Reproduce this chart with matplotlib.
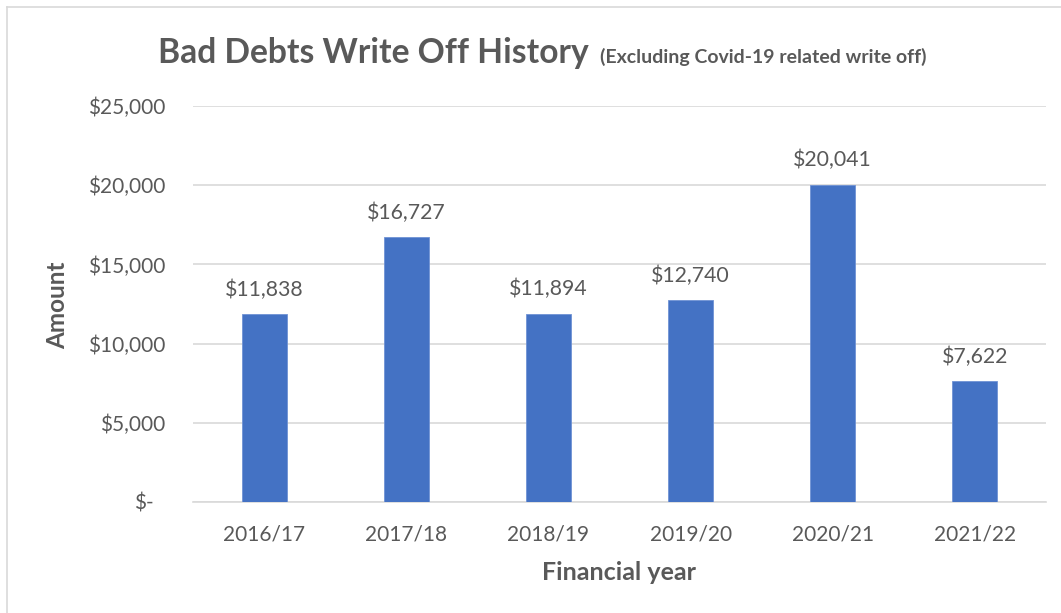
import matplotlib
matplotlib.use("Agg")
import matplotlib.pyplot as plt
import matplotlib.transforms as mtransforms

categories = ["2016/17", "2017/18", "2018/19", "2019/20", "2020/21", "2021/22"]
amounts = [11838, 16727, 11894, 12740, 20041, 7622]
yticks = [0, 5000, 10000, 15000, 20000, 25000]
ytick_labels = ["$-", "$5,000", "$10,000", "$15,000", "$20,000", "$25,000"]
title_main = "Bad Debts Write Off History"
title_sub = "(Excluding Covid-19 related write off)"

W, H = 1061, 613
FONT = "Lato"
TXT = "#595959"
BAR = "#4472C4"
GRID = "#D9D9D9"

fig = plt.figure(figsize=(W / 100, H / 100), dpi=100)
fig.patch.set_facecolor("white")

# chart border (left and top visible)
fig.add_artist(plt.Line2D([7 / W, 7 / W], [0, 1 - 7 / H], color="#D9D9D9", lw=1.2, transform=fig.transFigure))
fig.add_artist(plt.Line2D([7 / W, 1], [1 - 7 / H, 1 - 7 / H], color="#D9D9D9", lw=1.2, transform=fig.transFigure))

left, right = 193 / W, 1046 / W
bottom, top = 1 - 502 / H, 1 - 106 / H
ax = fig.add_axes([left, bottom, right - left, top - bottom])

x = list(range(len(categories)))
ax.bar(x, amounts, width=0.317, color=BAR, edgecolor="#6F92D4", linewidth=0.6, zorder=3)
ax.set_xlim(-0.5, len(categories) - 0.5)
ax.set_ylim(0, 25000)
ax.set_yticks(yticks)
ax.set_yticklabels(ytick_labels, fontfamily=FONT, fontsize=15, color=TXT)
ax.set_xticks(x)
ax.set_xticklabels(categories, fontfamily=FONT, fontsize=15, color=TXT)
ax.tick_params(axis="y", length=0, pad=20)
ax.tick_params(axis="x", length=0, pad=16.5)
ax.grid(axis="y", color=GRID, lw=1.2, zorder=0)
for s in ["top", "right", "left"]:
    ax.spines[s].set_visible(False)
ax.spines["bottom"].set_color(GRID)
ax.spines["bottom"].set_linewidth(1.2)

# shift "$-" label like Excel accounting format
lab0 = ax.get_yticklabels()[0]
lab0.set_transform(lab0.get_transform() + mtransforms.ScaledTranslation(-12 / 100, 0, fig.dpi_scale_trans))

for xi, v in zip(x, amounts):
    ax.annotate(f"${v:,}", (xi, v), xytext=(0, 13), textcoords="offset points",
                ha="center", va="baseline", fontfamily=FONT, fontsize=15.3, color=TXT)

fig.text(58 / W, 1 - 305 / H, "Amount", rotation=90, ha="center", va="center",
         fontfamily=FONT, fontsize=17.5, fontweight="bold", color=TXT)
fig.text(619 / W, 1 - 573 / H, "Financial year", ha="center", va="center",
         fontfamily=FONT, fontsize=18, fontweight="bold", color=TXT)

# title
t1 = fig.text(158 / W, 1 - 63 / H, title_main, ha="left", va="baseline",
              fontfamily=FONT, fontsize=24.2, fontweight="bold", color=TXT)
fig.canvas.draw()
bb = t1.get_window_extent(renderer=fig.canvas.get_renderer())
fig.text((bb.x1 + 11) / W, 1 - 63 / H, title_sub, ha="left", va="baseline",
         fontfamily=FONT, fontsize=14, fontweight="bold", color=TXT)

fig.savefig("out.png", dpi=100)
